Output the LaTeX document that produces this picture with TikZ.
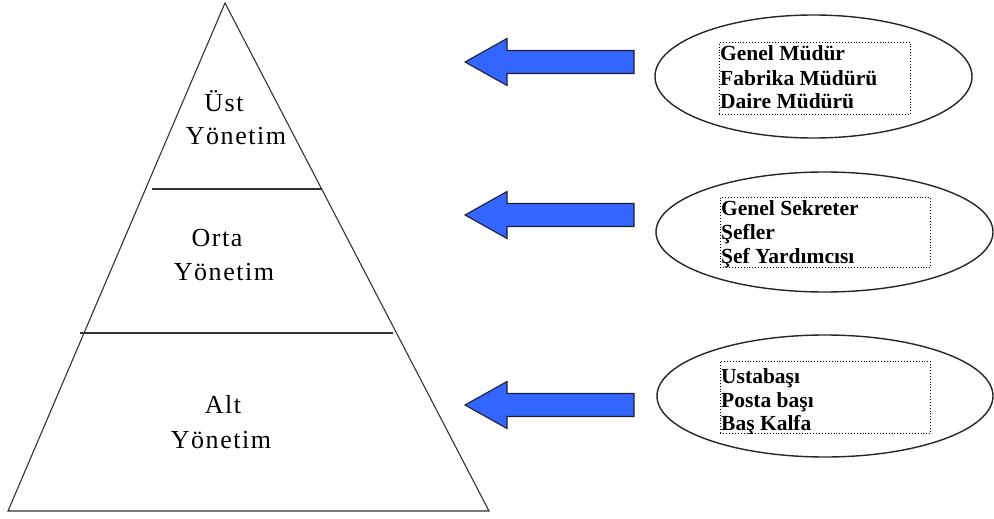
\documentclass[tikz,border=0pt]{standalone}
\usepackage{fontspec}
\setmainfont{Liberation Serif}
\usetikzlibrary{shapes.geometric,calc}
\definecolor{arrblue}{RGB}{51,102,255}
\definecolor{arredge}{RGB}{30,30,50}
\newfontfamily\pyrfont[LetterSpace=6]{Liberation Serif}
\tikzset{
  pyrline/.style={line width=1.1pt, draw=black!80},
  pyrtext/.style={font=\pyrfont\fontsize{26}{30}\selectfont, inner sep=0pt, anchor=base},
  oval/.style={ellipse, draw=black!85, line width=1.4pt, inner sep=0pt},
  tbox/.style={draw=black, dotted, line width=0.9pt, inner sep=0pt, anchor=north west},
  ttext/.style={font=\bfseries\fontsize{21.5}{24}\selectfont, inner sep=0pt, anchor=base west},
  blockarr/.style={fill=arrblue, draw=arredge, line width=1.1pt, line join=miter}
}
\newcommand{\blockarrow}[1]{%
  \path[blockarr] (465,#1) -- (507,#1-23.5) -- (507,#1-11.5) -- (634,#1-11.5)
    -- (634,#1+11.5) -- (507,#1+11.5) -- (507,#1+23.5) -- cycle;}
\begin{document}
\begin{tikzpicture}[x=1pt,y=-1pt]
\useasboundingbox (0,0) rectangle (994,519);
% pyramid
\coordinate (apex) at (225,3);
\coordinate (bl) at (8,511);
\coordinate (br) at (489,511);
\draw[pyrline] (apex) -- (bl) -- (br) -- cycle;
\coordinate (l1a) at (152,189); \coordinate (l1b) at (322,189);
\coordinate (l2a) at (80,333);  \coordinate (l2b) at (393,333);
\draw[pyrline] (l1a) -- (l1b);
\draw[pyrline] (l2a) -- (l2b);
\node[pyrtext] (u1) at (224,111) {Üst};
\node[pyrtext] (u2) at (236,144) {Yönetim};
\node[pyrtext] (o1) at (217,246) {Orta};
\node[pyrtext] (o2) at (224,280) {Yönetim};
\node[pyrtext] (a1) at (223,413) {Alt};
\node[pyrtext] (a2) at (221,448) {Yönetim};
% arrows
\blockarrow{62}
\blockarrow{215}
\blockarrow{405}
% ellipses
\node[oval, minimum width=317pt, minimum height=123pt] (e1) at (813.5,76.5) {};
\node[oval, minimum width=337pt, minimum height=120pt] (e2) at (824.5,232) {};
\node[oval, minimum width=336pt, minimum height=122pt] (e3) at (825,396) {};
% boxes
\node[tbox, minimum width=191pt, minimum height=72pt] (b1) at (719,42) {};
\node[tbox, minimum width=210pt, minimum height=70pt] (b2) at (720,197) {};
\node[tbox, minimum width=210pt, minimum height=72pt] (b3) at (720,361) {};
\begin{scope}
\clip (b1.north west) rectangle (b1.south east);
\node[ttext] (t1a) at ($(b1.north west)+(1,19)$) {Genel Müdür};
\node[ttext] (t1b) at ($(b1.north west)+(1,43)$) {Fabrika Müdürü};
\node[ttext] (t1c) at ($(b1.north west)+(1,67)$) {Daire Müdürü};
\end{scope}
\begin{scope}
\clip (b2.north west) rectangle (b2.south east);
\node[ttext] (t2a) at ($(b2.north west)+(1,18)$) {Genel Sekreter};
\node[ttext] (t2b) at ($(b2.north west)+(1,42)$) {Şefler};
\node[ttext] (t2c) at ($(b2.north west)+(1,66)$) {Şef Yardımcısı};
\end{scope}
\begin{scope}
\clip (b3.north west) rectangle (b3.south east);
\node[ttext] (t3a) at ($(b3.north west)+(1,22)$) {Ustabaşı};
\node[ttext] (t3b) at ($(b3.north west)+(1,46)$) {Posta başı};
\node[ttext] (t3c) at ($(b3.north west)+(1,69)$) {Baş Kalfa};
\end{scope}
\end{tikzpicture}
\end{document}
